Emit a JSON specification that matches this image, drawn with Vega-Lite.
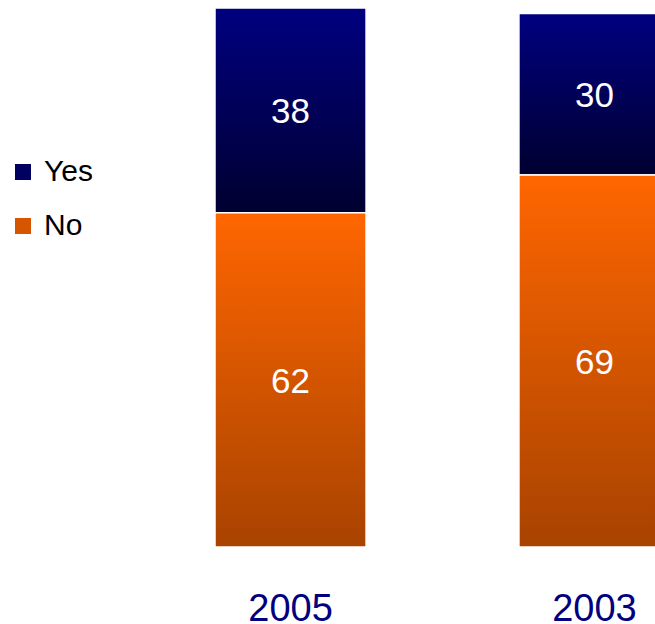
{
  "$schema": "https://vega.github.io/schema/vega-lite/v6.json",
  "autosize": {"type": "none"},
  "padding": {"left": 215, "top": 8, "right": 0, "bottom": 77},
  "width": 440,
  "height": 539,
  "background": "white",
  "config": {"view": {"stroke": null}, "font": "Liberation Sans"},
  "data": {"values": [
    {"year": "2005", "answer": "Yes", "value": 38},
    {"year": "2005", "answer": "No", "value": 62},
    {"year": "2003", "answer": "Yes", "value": 30},
    {"year": "2003", "answer": "No", "value": 69}
  ]},
  "transform": [
    {"stack": "value", "groupby": ["year"], "sort": [{"field": "answer", "order": "ascending"}], "as": ["v0", "v1"]}
  ],
  "encoding": {
    "x": {"field": "year", "type": "nominal", "sort": ["2005", "2003"],
      "scale": {"range": [0, 455], "paddingInner": 0.503, "paddingOuter": 0},
      "axis": {"title": null, "domain": false, "ticks": false, "tickSize": 0, "labelAngle": 0,
        "labelFontSize": 38, "labelColor": "#000080", "labelFont": "Liberation Sans",
        "labelPadding": 43, "labelBaseline": "top"}}
  },
  "layer": [
    {
      "transform": [{"filter": "datum.answer === 'Yes'"}],
      "mark": {"type": "bar", "stroke": "white", "strokeWidth": 1.5,
        "fill": {"gradient": "linear", "x1": 0, "y1": 0, "x2": 0, "y2": 1,
          "stops": [{"offset": 0, "color": "#000080"}, {"offset": 1, "color": "#000030"}]}},
      "encoding": {
        "y": {"field": "v1", "type": "quantitative", "scale": {"domain": [0, 100], "nice": false}, "axis": null},
        "y2": {"field": "v0"}
      }
    },
    {
      "transform": [{"filter": "datum.answer === 'No'"}],
      "mark": {"type": "bar", "stroke": "white", "strokeWidth": 1.5,
        "fill": {"gradient": "linear", "x1": 0, "y1": 0, "x2": 0, "y2": 1,
          "stops": [{"offset": 0, "color": "#FF6600"}, {"offset": 1, "color": "#A84300"}]}},
      "encoding": {
        "y": {"field": "v1", "type": "quantitative", "scale": {"domain": [0, 100], "nice": false}, "axis": null},
        "y2": {"field": "v0"}
      }
    },
    {
      "mark": {"type": "point", "filled": true, "size": 0, "opacity": 0},
      "encoding": {
        "y": {"field": "v0", "type": "quantitative"},
        "color": {"field": "answer", "type": "nominal",
          "scale": {"domain": ["Yes", "No"], "range": ["#000060", "#D85500"]},
          "legend": {"title": null, "orient": "none", "legendX": -207, "legendY": 149,
            "symbolType": "square", "symbolSize": 256, "symbolStrokeWidth": 0, "symbolOpacity": 1,
            "labelFontSize": 30, "labelFont": "Liberation Sans", "labelColor": "black",
            "labelOffset": 6, "rowPadding": 24,
            "encode": {"symbols": {"update": {
              "fill": {"signal": "datum.value === 'Yes' ? {gradient: 'linear', x1: 0, y1: 0, x2: 0, y2: 1, stops: [{offset: 0, color: '#000080'}, {offset: 1, color: '#000030'}]} : {gradient: 'linear', x1: 0, y1: 0, x2: 0, y2: 1, stops: [{offset: 0, color: '#FF6600'}, {offset: 1, color: '#A84300'}]}"},
              "opacity": {"value": 1}
            }}}}
        }
      }
    },
    {
      "transform": [
        {"calculate": "(datum.v0 + datum.v1) / 2", "as": "mid"}
      ],
      "mark": {"type": "text", "color": "white", "fontSize": 35, "font": "Liberation Sans", "baseline": "middle", "dy": 2},
      "encoding": {
        "y": {"field": "mid", "type": "quantitative"},
        "text": {"field": "value", "type": "quantitative"}
      }
    }
  ]
}
